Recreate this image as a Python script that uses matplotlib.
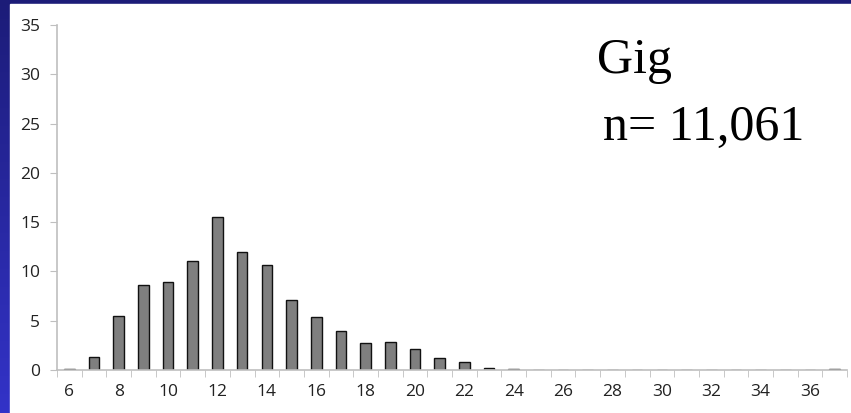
import numpy as np
import matplotlib
matplotlib.use('Agg')
from matplotlib import pyplot as plt
from matplotlib.patches import Rectangle

# values
categories = list(range(6, 38))
values = [0.1, 1.3, 5.5, 8.6, 8.9, 11.1, 15.5, 12.0, 10.7, 7.1,
          5.4, 3.95, 2.75, 2.85, 2.1, 1.25, 0.8, 0.17, 0.07, 0, 0, 0,
          0, 0, 0, 0, 0, 0, 0, 0, 0, 0.1]
tick_labels = [str(c) for c in range(6, 37, 2)]
title_text = 'Gig'
n_text = 'n= 11,061'

fig = plt.figure(figsize=(8.51, 4.13), dpi=100)

# blue slide background with a gradient
bg = fig.add_axes([0, 0, 1, 1])
grad = np.linspace(0, 1, 256).reshape(-1, 1)
cmap = matplotlib.colors.LinearSegmentedColormap.from_list('bg', ['#1c1c78', '#3333c8'])
bg.imshow(grad, aspect='auto', cmap=cmap, extent=[0, 1, 0, 1], origin='upper')
bg.set_xlim(0, 1)
bg.set_ylim(0, 1)
bg.axis('off')
bg.add_patch(Rectangle((10 / 851, 0), 1, 1 - 4 / 413, color='white', zorder=2))

ax = fig.add_axes([57 / 851, 43 / 413, 790 / 851, 345 / 413])
ax.patch.set_alpha(0)
x = np.arange(len(categories))
ax.bar(x, values, width=0.43, color='#7f7f7f', edgecolor='#111111', linewidth=1.0)

ax.set_xlim(-0.5, len(categories) - 0.5)
ax.set_ylim(0, 35)
ax.set_yticks(range(0, 36, 5))
ax.set_xticks(np.arange(0, 31, 2))
ax.set_xticklabels(tick_labels)
ax.set_xticks(np.arange(-0.5, len(categories), 1), minor=True)

for s in ['top', 'right']:
    ax.spines[s].set_visible(False)
for s in ['left', 'bottom']:
    ax.spines[s].set_color('#bfbfbf')
    ax.spines[s].set_linewidth(1.2)

ax.tick_params(axis='x', which='major', length=0, pad=10, labelsize=12.5, labelcolor='#222222')
ax.tick_params(axis='x', which='minor', length=5, color='#bfbfbf', direction='out')
ax.tick_params(axis='y', length=5, color='#bfbfbf', labelsize=12.5, labelcolor='#222222', pad=7)
for lab in ax.get_xticklabels() + ax.get_yticklabels():
    lab.set_family('Open Sans')

fig.text(597 / 851, 1 - 73 / 413, title_text, family='Liberation Serif', fontsize=36,
         color='black', va='baseline', ha='left')
fig.text(603 / 851, 1 - 140 / 413, n_text, family='Liberation Serif', fontsize=36,
         color='black', va='baseline', ha='left')

fig.savefig('out.png', dpi=100)
plt.close(fig)
